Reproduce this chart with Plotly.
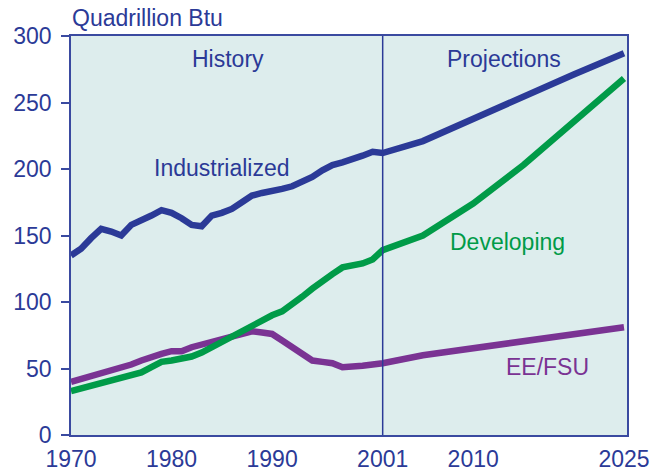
import plotly.graph_objects as go

years = list(range(1970, 2002)) + [2005, 2010, 2015, 2020, 2025]

industrialized = [135, 140, 148, 155, 153, 150, 158, 161, 165, 169,
                  167, 163, 158, 157, 165, 167, 170, 175, 180, 182,
                  183, 185, 187, 190, 194, 199, 203, 205, 207, 210,
                  213, 212, 221, 238, 255, 271, 287]
developing = [33, 35, 37, 39, 41, 43, 45, 47, 51, 55,
              56, 57, 59, 62, 66, 70, 74, 78, 83, 86,
              90, 93, 98, 104, 110, 116, 121, 126, 127, 129,
              132, 139, 150, 174, 203, 235, 268]
eefsu = [40, 42, 44, 46, 48, 51, 53, 56, 59, 61,
         63, 63, 66, 68, 71, 73, 75, 77, 78, 77,
         76, 71, 66, 61, 56, 55, 54, 51, 51, 52,
         53, 54, 60, 65, 70, 75, 81]

x_ticks = [1970, 1980, 1990, 2001, 2010, 2025]
y_ticks = [0, 50, 100, 150, 200, 250, 300]

NAVY = "#2B3A97"
AXIS = "#3A4AA0"
GREEN = "#009B48"
PURPLE = "#7A3393"
FONT = "Liberation Sans, Arial, sans-serif"
FS = 23

fig = go.Figure()
fig.add_trace(go.Scatter(x=years, y=eefsu, mode="lines",
                         line=dict(color=PURPLE, width=6.5), name="EE/FSU"))
fig.add_trace(go.Scatter(x=years, y=developing, mode="lines",
                         line=dict(color=GREEN, width=6.5), name="Developing"))
fig.add_trace(go.Scatter(x=years, y=industrialized, mode="lines",
                         line=dict(color=NAVY, width=6.5), name="Industrialized"))

fig.add_shape(type="line", x0=2001, x1=2001, y0=0, y1=300, xref="x", yref="y",
              line=dict(color=NAVY, width=1.5))

annots = [
    dict(x=1985.6, y=283, text="History", color=NAVY),
    dict(x=2013.1, y=283, text="Projections", color=NAVY),
    dict(x=1985.0, y=200.5, text="Industrialized", color=NAVY),
    dict(x=2013.4, y=145, text="Developing", color=GREEN),
    dict(x=2017.4, y=51, text="EE/FSU", color=PURPLE),
]
for a in annots:
    fig.add_annotation(x=a["x"], y=a["y"], text=a["text"], showarrow=False,
                       font=dict(family=FONT, size=FS, color=a["color"]),
                       xanchor="center", yanchor="middle")

fig.add_annotation(x=0, xref="paper", xanchor="left", xshift=-1,
                   y=1, yref="paper", yanchor="middle", yshift=18,
                   text="Quadrillion Btu", showarrow=False,
                   font=dict(family=FONT, size=FS, color=NAVY))

fig.update_layout(
    width=660, height=472,
    margin=dict(l=71, r=33, t=36, b=37, autoexpand=False),
    paper_bgcolor="white",
    plot_bgcolor="#DDEDED",
    showlegend=False,
    font=dict(family=FONT, size=FS, color=NAVY),
)
fig.update_xaxes(range=[1970, 2025.3], tickvals=x_ticks,
                 ticktext=[str(t) for t in x_ticks], automargin=False,
                 showgrid=False, zeroline=False, ticks="", ticklabelstandoff=3,
                 showline=True, linecolor=AXIS, linewidth=1.5, mirror=True,
                 tickfont=dict(family=FONT, size=FS, color=NAVY))
fig.update_yaxes(range=[0, 300], tickvals=y_ticks, automargin=False,
                 showgrid=False, zeroline=False, ticks="outside", ticklen=8,
                 tickcolor=AXIS, tickwidth=1.5, ticklabelstandoff=5,
                 showline=True, linecolor=AXIS, linewidth=1.5, mirror=True,
                 tickfont=dict(family=FONT, size=FS, color=NAVY))

fig.write_html("out.html",
               config={"displayModeBar": False},
               post_script="document.body.style.margin='0';")
